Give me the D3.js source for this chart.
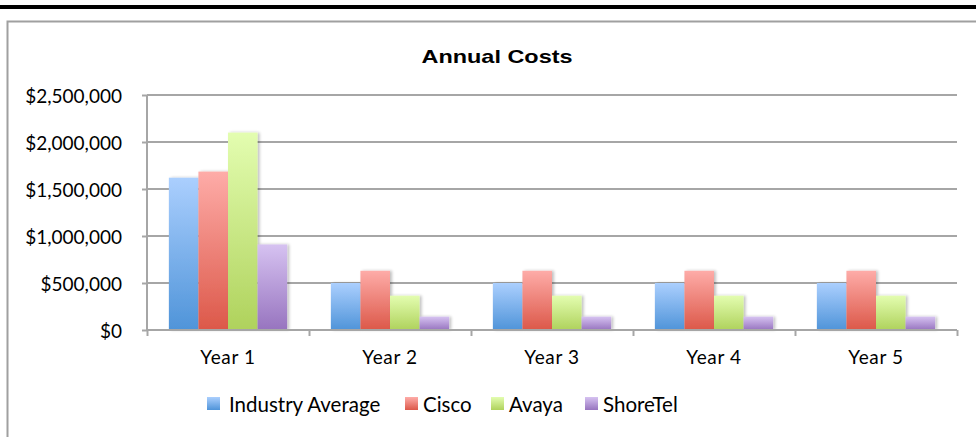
<!DOCTYPE html>
<html><head><meta charset="utf-8">
<script src="https://cdn.jsdelivr.net/npm/d3@7"></script>
<style>body{margin:0;background:#fff}svg{display:block}</style>
</head><body>
<svg id="c" width="976" height="437"></svg>
<script>
const categories = ["Year 1", "Year 2", "Year 3", "Year 4", "Year 5"];
const seriesNames = ["Industry Average", "Cisco", "Avaya", "ShoreTel"];
const industryAverage = [1620000, 500000, 500000, 500000, 500000];
const cisco = [1685000, 630000, 630000, 630000, 630000];
const avaya = [2100000, 365000, 365000, 365000, 365000];
const shoreTel = [910000, 142000, 142000, 142000, 142000];
const yTicks = [0, 500000, 1000000, 1500000, 2000000, 2500000];
const title = "Annual Costs";

const values = [industryAverage, cisco, avaya, shoreTel];
const colors = [["#abcffe","#4f94d9"],["#feaca8","#dc5849"],["#e3fdb0","#afd25c"],["#d6c2f1","#9774bf"]];
const FONT = "Lato, 'Open Sans', sans-serif";

const svg = d3.select("#c");
svg.append("rect").attr("x",0).attr("y",5).attr("width",976).attr("height",4).attr("fill","#000");
svg.append("rect").attr("x",7.5).attr("y",21.5).attr("width",990).attr("height",440)
  .attr("fill","none").attr("stroke","#a0a0a0").attr("stroke-width",2);

const defs = svg.append("defs");
colors.forEach((c,i)=>{
  const g = defs.append("linearGradient").attr("id","g"+i).attr("x1",0).attr("y1",0).attr("x2",0).attr("y2",1);
  g.append("stop").attr("offset","0%").attr("stop-color",c[0]);
  g.append("stop").attr("offset","100%").attr("stop-color",c[1]);
});
const f = defs.append("filter").attr("id","sh").attr("x","-20%").attr("y","-20%").attr("width","150%").attr("height","140%");
f.append("feGaussianBlur").attr("in","SourceAlpha").attr("stdDeviation",1.5).attr("result","b");
f.append("feOffset").attr("in","b").attr("dx",2).attr("dy",0).attr("result","o");
f.append("feComponentTransfer").attr("in","o").attr("result","o2").append("feFuncA").attr("type","linear").attr("slope",0.25);
const m = f.append("feMerge"); m.append("feMergeNode").attr("in","o2"); m.append("feMergeNode").attr("in","SourceGraphic");

const x0 = 147, x1 = 957, yTop = 95, yBot = 330;
const x = d3.scaleBand().domain(categories).range([x0,x1]).paddingInner(0.27).paddingOuter(0.135);
const xs = d3.scaleBand().domain(seriesNames).range([0,x.bandwidth()]);
const y = d3.scaleLinear().domain([0,2500000]).range([yBot,yTop]);

svg.append("g").selectAll("line").data(yTicks).join("line")
  .attr("x1",x0).attr("x2",x1).attr("y1",d=>y(d)).attr("y2",d=>y(d))
  .attr("stroke","#a6a6a6").attr("stroke-width",2);

const cat = svg.append("g").selectAll("g").data(categories).join("g")
  .attr("transform",d=>`translate(${x(d)},0)`);
cat.selectAll("rect").data((d,ci)=>seriesNames.map((s,si)=>({s,si,v:values[si][ci]}))).join("rect")
  .attr("x",d=>xs(d.s)).attr("width",xs.bandwidth()).attr("y",d=>y(d.v)).attr("height",d=>yBot-y(d.v))
  .attr("fill",d=>`url(#g${d.si})`).attr("filter","url(#sh)");

const xAxis = d3.axisBottom(d3.scaleLinear().domain([0,5]).range([x0,x1])).tickValues([0,1,2,3,4,5]).tickSize(6).tickFormat("");
const gx = svg.append("g").attr("transform",`translate(0,${yBot})`).call(xAxis);
gx.select(".domain").attr("stroke","#a6a6a6").attr("stroke-width",2).attr("d",`M${x0},0H${x1}`);
gx.selectAll(".tick line").attr("stroke","#a6a6a6").attr("stroke-width",2);
svg.append("g").selectAll("text").data(categories).join("text")
  .attr("x",d=>x(d)+x.bandwidth()/2).attr("y",364).attr("text-anchor","middle")
  .attr("font-family",FONT).attr("font-size",19).attr("letter-spacing",0.6).attr("fill","#000").text(d=>d);

const yAxis = d3.axisLeft(y).tickValues(yTicks).tickSize(5).tickPadding(20)
  .tickFormat(d=>"$"+d3.format(",")(d));
const gy = svg.append("g").attr("transform",`translate(${x0},0)`).call(yAxis);
gy.select(".domain").attr("stroke","#a6a6a6").attr("stroke-width",2).attr("d",`M0,${yTop}V${yBot}`);
gy.selectAll(".tick line").attr("stroke","#a6a6a6").attr("stroke-width",2);
gy.selectAll(".tick text").attr("font-family",FONT).attr("font-size",19).attr("fill","#000").attr("dy","0.38em");

svg.append("text").attr("x",497).attr("y",63).attr("text-anchor","middle")
  .attr("font-family","'Liberation Sans', Arial, sans-serif").attr("font-weight","bold").attr("font-size",19)
  .attr("textLength",151).attr("lengthAdjust","spacingAndGlyphs").text(title);

const legX = [207, 405, 491, 585];
const lg = svg.append("g").selectAll("g").data(seriesNames).join("g").attr("transform",(d,i)=>`translate(${legX[i]},397)`);
lg.append("rect").attr("width",13).attr("height",13).attr("fill",(d,i)=>`url(#g${i})`);
lg.append("text").attr("x",(d,i)=>i===0?22:18).attr("y",15).attr("font-family",FONT).attr("font-size",20.5).text(d=>d);
</script>
</body></html>
